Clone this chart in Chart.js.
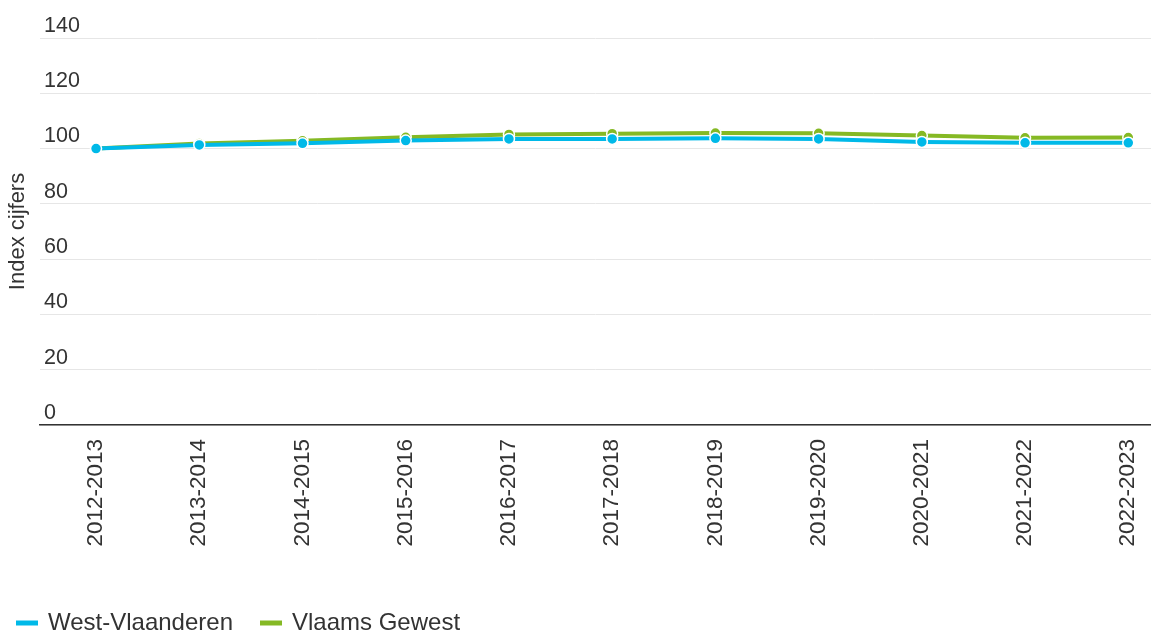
<!DOCTYPE html>
<html>
<head>
<meta charset="utf-8">
<script src="https://cdn.jsdelivr.net/npm/chart.js@4/dist/chart.umd.min.js"></script>
<style>
  html, body { margin: 0; padding: 0; background: #fff; }
  #wrap { width: 1151px; height: 630px; position: relative; }
</style>
</head>
<body>
<div id="wrap"><canvas id="chart"></canvas></div>
<script>
// schooljaren
const years = ['2012-2013', '2013-2014', '2014-2015', '2015-2016', '2016-2017', '2017-2018',
               '2018-2019', '2019-2020', '2020-2021', '2021-2022', '2022-2023'];
const westVlaanderen = [100, 101.3, 101.9, 102.9, 103.5, 103.5, 103.7, 103.5, 102.4, 102.1, 102.1];
const vlaamsGewest   = [100, 101.8, 102.8, 104.1, 105.1, 105.4, 105.6, 105.5, 104.7, 103.9, 104.0];
const yTicks = [0, 20, 40, 60, 80, 100, 120, 140];

const FONT = "'Liberation Sans', Arial, sans-serif";
const TEXT = '#333333';
const BLUE = '#00b9e8';
const GREEN = '#85b924';

const toPoints = arr => arr.map((v, i) => ({ x: i, y: v }));

function series(label, values, color) {
  return {
    label: label,
    data: toPoints(values),
    borderColor: color,
    backgroundColor: color,
    borderWidth: 4,
    tension: 0,
    pointRadius: 5.5,
    pointHoverRadius: 6,
    pointBackgroundColor: color,
    pointBorderColor: '#ffffff',
    pointBorderWidth: 1.5
  };
}

// legend: fixed height, nudged left so the first swatch starts near x=16
const legendPad = {
  id: 'legendPad',
  beforeInit(chart) {
    const fit = chart.legend.fit;
    chart.legend.fit = function () {
      fit.bind(chart.legend)();
      this.height = 48;
    };
  },
  afterUpdate(chart) {
    chart.legend.left -= 11;
    chart.legend.right -= 11;
  }
};

new Chart(document.getElementById('chart').getContext('2d'), {
  type: 'line',
  data: {
    datasets: [
      series('West-Vlaanderen', westVlaanderen, BLUE),
      series('Vlaams Gewest', vlaamsGewest, GREEN)
    ]
  },
  plugins: [legendPad],
  options: {
    responsive: true,
    maintainAspectRatio: false,
    animation: false,
    layout: { autoPadding: false, padding: { top: 38, left: 0, right: 0, bottom: 0 } },
    plugins: {
      tooltip: { enabled: false },
      legend: {
        position: 'bottom',
        align: 'start',
        labels: {
          color: TEXT,
          font: { family: FONT, size: 24 },
          boxWidth: 18,
          boxHeight: 1,
          padding: 29
        }
      }
    },
    scales: {
      x: {
        type: 'linear',
        min: -0.543,
        max: 10.22,
        afterBuildTicks: s => { s.ticks = years.map((_, i) => ({ value: i })); },
        afterFit: s => { s.height = 157; s.paddingLeft = 0; s.paddingRight = 0; },
        border: { display: true, color: '#333333', width: 1.5 },
        grid: { display: false, drawTicks: false },
        ticks: {
          color: TEXT,
          font: { family: FONT, size: 22.5 },
          minRotation: 90,
          maxRotation: 90,
          padding: 14,
          autoSkip: false,
          callback: v => years[v]
        }
      },
      y: {
        min: 0,
        max: 140,
        afterBuildTicks: s => { s.ticks = yTicks.map(v => ({ value: v })); },
        afterFit: s => { s.width = 40; s.paddingTop = 0; s.paddingBottom = 0; },
        border: { display: false },
        grid: { color: '#e6e6e6', lineWidth: 1, drawTicks: false },
        title: {
          display: true,
          text: 'Index cijfers',
          color: TEXT,
          font: { family: FONT, size: 22 },
          padding: { top: 5, bottom: 0 }
        },
        ticks: {
          color: TEXT,
          font: { family: FONT, size: 21.5 },
          mirror: true,
          padding: 4,
          labelOffset: -12
        }
      }
    }
  }
});
</script>
</body>
</html>
